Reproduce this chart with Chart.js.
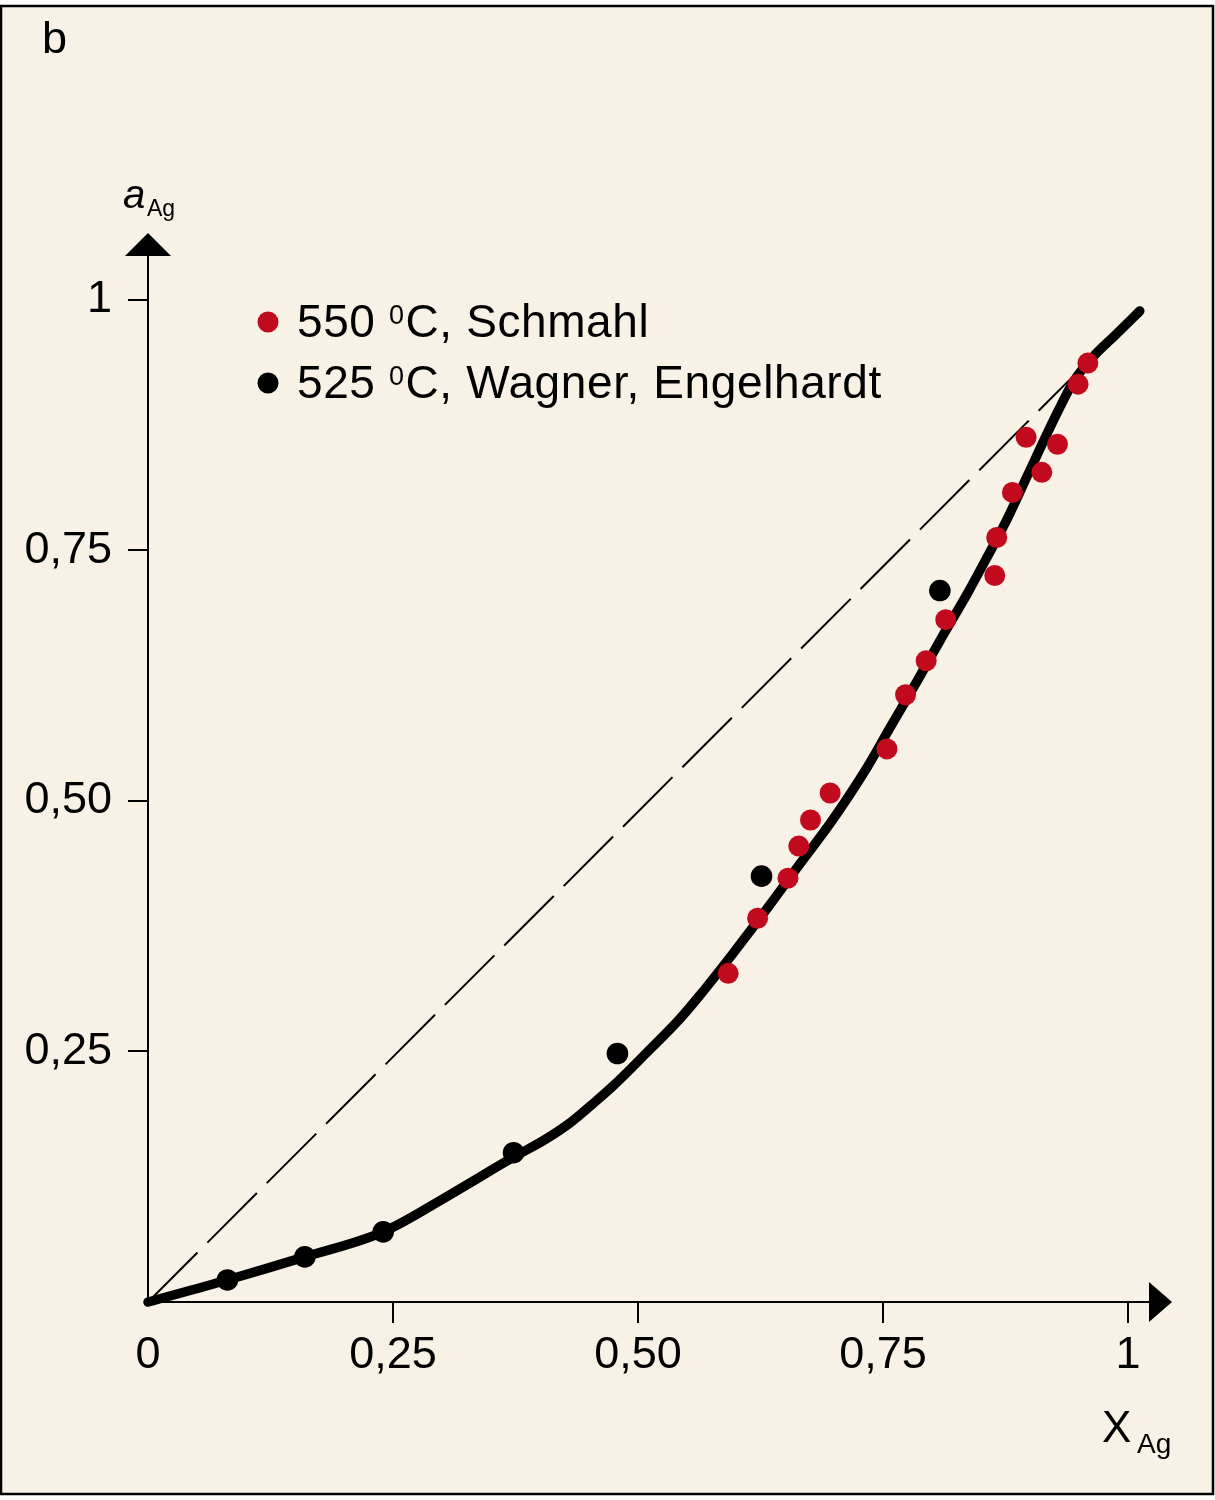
<!DOCTYPE html>
<html>
<head>
<meta charset="utf-8">
<title>Activité de l'argent</title>
<script src="https://cdn.jsdelivr.net/npm/chart.js@4.4.1/dist/chart.umd.min.js"></script>
<style>
  html, body { margin: 0; padding: 0; background: #ffffff; }
  #wrap { width: 1215px; height: 1500px; }
</style>
</head>
<body>
<div id="wrap"><canvas id="chart" width="1215" height="1500"></canvas></div>
<script>
// ─── Data ───────────────────────────────
// 550 °C, Schmahl (red)
const schmahlX = [0.592, 0.622, 0.653, 0.664, 0.676, 0.696, 0.754, 0.773, 0.794, 0.814, 0.864, 0.866, 0.882, 0.896, 0.912, 0.928, 0.949, 0.959];
const schmahlY = [0.328, 0.383, 0.423, 0.455, 0.481, 0.508, 0.552, 0.606, 0.640, 0.681, 0.725, 0.763, 0.808, 0.863, 0.828, 0.856, 0.916, 0.937];

// 525 °C, Wagner, Engelhardt (black)
const wagnerX = [0.081, 0.160, 0.240, 0.373, 0.479, 0.626, 0.808];
const wagnerY = [0.022, 0.045, 0.070, 0.149, 0.248, 0.425, 0.710];

// fitted curve
const curveX = [0, 0.081, 0.160, 0.240, 0.308, 0.372, 0.405, 0.431, 0.453, 0.475, 0.509, 0.543, 0.563, 0.597, 0.632, 0.665, 0.697, 0.734, 0.757, 0.785, 0.811, 0.836, 0.856, 0.877, 0.897, 0.928, 0.944, 0.964, 0.987, 1.012];
const curveY = [0, 0.022, 0.045, 0.070, 0.107, 0.144, 0.162, 0.179, 0.197, 0.216, 0.249, 0.283, 0.306, 0.348, 0.393, 0.437, 0.479, 0.534, 0.573, 0.620, 0.665, 0.707, 0.743, 0.782, 0.824, 0.888, 0.918, 0.943, 0.965, 0.989];

// ideal solution (dashed)
const idealX = [0, 0.94];
const idealY = [0, 0.92];

const xTicks = [0, 0.25, 0.5, 0.75, 1];
const xTickLabels = ["0", "0,25", "0,50", "0,75", "1"];
const yTicks = [0.25, 0.5, 0.75, 1];
const yTickLabels = ["0,25", "0,50", "0,75", "1"];

// ─── Style ──────────────────────────────
const FONT = '"Liberation Sans", Arial, Helvetica, sans-serif';
const RED = "#c20a1f";
const INK = "#000000";
const PAPER = "#f8f1e6";

const pts = (xs, ys) => xs.map((x, i) => ({ x, y: ys[i] }));

// ─── Frame, arrows and labels ───────────
const decor = {
  id: "decor",
  beforeDraw(chart) {
    const c = chart.ctx;
    c.save();
    c.fillStyle = PAPER;
    c.fillRect(1, 6, 1212, 1488);
    c.lineWidth = 2.5;
    c.strokeStyle = INK;
    c.strokeRect(1, 6, 1212, 1488);
    c.restore();
  },
  afterDraw(chart) {
    const c = chart.ctx;
    const xa = chart.scales.x, ya = chart.scales.y;
    const ox = xa.getPixelForValue(0);
    const oy = ya.getPixelForValue(0);
    c.save();
    c.fillStyle = INK;

    // y arrow
    c.beginPath();
    c.moveTo(ox, ya.top - 22);
    c.lineTo(ox - 23, ya.top + 1);
    c.lineTo(ox + 23, ya.top + 1);
    c.closePath();
    c.fill();

    // x arrow
    c.beginPath();
    c.moveTo(xa.right + 22, oy);
    c.lineTo(xa.right - 1, oy - 20);
    c.lineTo(xa.right - 1, oy + 20);
    c.closePath();
    c.fill();

    c.textBaseline = "alphabetic";
    c.textAlign = "left";

    // panel letter
    c.font = `45px ${FONT}`;
    c.fillText("b", 42, 53);

    // y axis title a_Ag
    c.font = `italic 40px ${FONT}`;
    c.fillText("a", 123, 208);
    c.font = `23px ${FONT}`;
    c.fillText("Ag", 147, 216);

    // x axis title X_Ag
    c.font = `44px ${FONT}`;
    c.fillText("X", 1102, 1442);
    c.font = `28px ${FONT}`;
    c.fillText("Ag", 1137, 1453);

    // legend
    const rows = [
      { color: RED, y: 322, pre: "550 ", post: "C, Schmahl" },
      { color: INK, y: 383, pre: "525 ", post: "C, Wagner, Engelhardt" },
    ];
    if ("letterSpacing" in c) c.letterSpacing = "0.6px";
    rows.forEach(r => {
      c.fillStyle = r.color;
      c.beginPath();
      c.arc(268, r.y, 10.5, 0, Math.PI * 2);
      c.fill();
      c.fillStyle = INK;
      const base = r.y + 15;
      let x = 297;
      c.font = `46px ${FONT}`;
      c.fillText(r.pre, x, base);
      x += c.measureText(r.pre).width;
      c.font = `27px ${FONT}`;
      c.fillText("0", x, base - 13);
      x += c.measureText("0").width + 1;
      c.font = `46px ${FONT}`;
      c.fillText(r.post, x, base);
    });
    c.restore();
  },
};

// ─── Chart ──────────────────────────────
const tickColor = ctx => (ctx.tick && ctx.tick.value === 0 ? "rgba(0,0,0,0)" : INK);

new Chart(document.getElementById("chart").getContext("2d"), {
  type: "scatter",
  data: {
    datasets: [
      {
        label: "550 °C, Schmahl",
        data: pts(schmahlX, schmahlY),
        backgroundColor: RED,
        borderWidth: 0,
        pointRadius: 10.5,
        showLine: false,
        order: 0,
        clip: false,
      },
      {
        label: "525 °C, Wagner, Engelhardt",
        data: pts(wagnerX, wagnerY),
        backgroundColor: INK,
        borderWidth: 0,
        pointRadius: 10.8,
        showLine: false,
        order: 1,
        clip: false,
      },
      {
        label: "courbe",
        data: pts(curveX, curveY),
        showLine: true,
        borderColor: INK,
        borderWidth: 9.5,
        borderCapStyle: "round",
        borderJoinStyle: "round",
        cubicInterpolationMode: "monotone",
        pointRadius: 0,
        order: 2,
        clip: false,
      },
      {
        label: "idéal",
        data: pts(idealX, idealY),
        showLine: true,
        borderColor: INK,
        borderWidth: 2,
        borderDash: [70, 14],
        pointRadius: 0,
        order: 3,
        clip: false,
      },
    ],
  },
  options: {
    responsive: false,
    animation: false,
    devicePixelRatio: 1,
    layout: { padding: { left: 0, right: 65, top: 255, bottom: 0 } },
    plugins: { legend: { display: false }, tooltip: { enabled: false } },
    scales: {
      x: {
        type: "linear",
        position: "bottom",
        min: 0,
        max: 1.0224,
        afterBuildTicks: s => { s.ticks = xTicks.map(v => ({ value: v })); },
        afterFit: s => { s.height = 198; },
        ticks: {
          callback: (v, i) => xTickLabels[i],
          color: INK,
          font: { family: FONT, size: 45 },
          padding: 6,
          maxRotation: 0,
          autoSkip: false,
        },
        grid: { drawOnChartArea: false, drawTicks: true, tickLength: 21, lineWidth: 2, color: tickColor },
        border: { display: true, color: INK, width: 2 },
      },
      y: {
        type: "linear",
        position: "left",
        min: 0,
        max: 1.0449,
        afterBuildTicks: s => { s.ticks = yTicks.map(v => ({ value: v })); },
        afterFit: s => { s.width = 148; },
        ticks: {
          callback: (v, i) => yTickLabels[i],
          color: INK,
          font: { family: FONT, size: 45 },
          padding: 16,
          autoSkip: false,
        },
        grid: { drawOnChartArea: false, drawTicks: true, tickLength: 20, lineWidth: 2, color: tickColor },
        border: { display: true, color: INK, width: 2 },
      },
    },
  },
  plugins: [decor],
});
</script>
</body>
</html>
